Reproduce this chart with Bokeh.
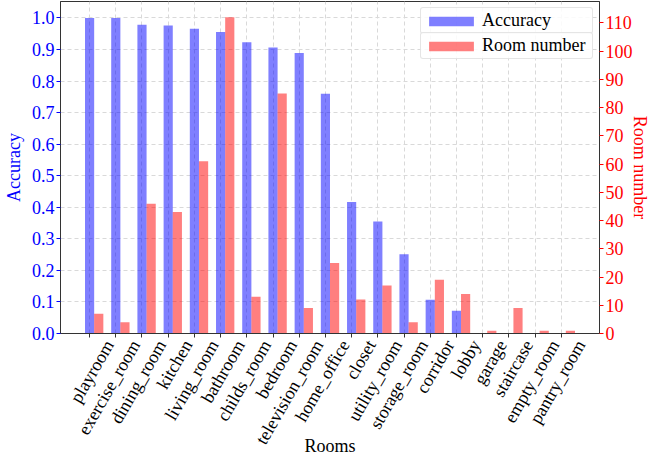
from bokeh.plotting import figure
from bokeh.models import (Range1d, LinearAxis, FixedTicker, Legend, LegendItem,
                          ColumnDataSource)
from bokeh.embed import file_html
from bokeh.resources import INLINE
import math

rooms = ["playroom", "exercise_room", "dining_room", "kitchen", "living_room",
         "bathroom", "childs_room", "bedroom", "television_room", "home_office",
         "closet", "utility_room", "storage_room", "corridor", "lobby",
         "garage", "staircase", "empty_room", "pantry_room"]
accuracy = [1.0, 1.0, 0.978, 0.976, 0.966, 0.955, 0.923, 0.906, 0.889, 0.760,
            0.417, 0.355, 0.251, 0.107, 0.072, 0.0, 0.0, 0.0, 0.0]
room_number = [7, 4, 46, 43, 61, 112, 13, 85, 9, 25, 12, 17, 4, 19, 14, 1, 9, 1, 1]
acc_ticks = [0.0, 0.1, 0.2, 0.3, 0.4, 0.5, 0.6, 0.7, 0.8, 0.9, 1.0]
num_ticks = [0, 10, 20, 30, 40, 50, 60, 70, 80, 90, 100, 110]

FONT = "Liberation Serif"
bw = 0.35
idx = list(range(len(rooms)))
X0, X1 = -1.11, 19.46
LBL_SHIFT = 0.75  # rotated labels centred under their ticks (matplotlib style)

src = ColumnDataSource(dict(
    x_acc=idx,
    x_num=[i + bw for i in idx],
    acc=accuracy,
    num=room_number,
))

p = figure(width=652, height=458, output_backend="svg", toolbar_location=None,
           x_range=Range1d(X0, X1), y_range=Range1d(0, 1.052),
           min_border_left=55, min_border_right=0, min_border_top=1,
           min_border_bottom=0)
p.extra_y_ranges = {"num": Range1d(0, 117.6)}
p.extra_x_ranges = {"lbl": Range1d(X0 - LBL_SHIFT, X1 - LBL_SHIFT)}

r1 = p.vbar(x="x_acc", top="acc", width=bw, source=src,
            fill_color="#0000ff", fill_alpha=0.5, line_color="#0000ff", line_alpha=0.0)
r2 = p.vbar(x="x_num", top="num", width=bw, source=src, y_range_name="num",
            fill_color="#ff0000", fill_alpha=0.5, line_color="#ff0000", line_alpha=0.0)

# x axis: tick marks only (labels not drawn)
xa = p.xaxis[0]
xa.ticker = FixedTicker(ticks=idx)
xa.major_label_text_font_size = "1px"
xa.major_label_text_color = None
xa.major_label_standoff = 0
xa.minor_tick_line_color = None
xa.major_tick_in = 0
xa.major_tick_out = 4
xa.axis_line_color = "#333333"
xa.major_tick_line_color = "#333333"

# x axis: rotated room labels + title
xl = LinearAxis(x_range_name="lbl", ticker=FixedTicker(ticks=idx))
xl.major_label_overrides = {i: r for i, r in enumerate(rooms)}
xl.major_label_orientation = math.radians(60)
xl.major_label_text_font = FONT
xl.major_label_text_font_size = "18px"
xl.major_label_text_color = "black"
xl.major_label_standoff = 4
xl.axis_line_color = None
xl.major_tick_line_color = None
xl.minor_tick_line_color = None
xl.major_tick_in = 0
xl.major_tick_out = 0
xl.axis_label = "Rooms"
xl.axis_label_text_font = FONT
xl.axis_label_text_font_size = "18px"
xl.axis_label_text_font_style = "normal"
xl.axis_label_text_color = "black"
xl.axis_label_standoff = -20
p.add_layout(xl, "below")

# left axis
ya = p.yaxis[0]
ya.ticker = FixedTicker(ticks=acc_ticks)
ya.major_label_overrides = {t: "%.1f" % t for t in acc_ticks}
ya.major_label_text_font = FONT
ya.major_label_text_font_size = "18px"
ya.major_label_text_color = "blue"
ya.axis_label = "Accuracy"
ya.axis_label_text_font = FONT
ya.axis_label_text_font_size = "18px"
ya.axis_label_text_font_style = "normal"
ya.axis_label_text_color = "blue"
ya.axis_label_standoff = 5
ya.major_label_standoff = 2
ya.minor_tick_line_color = None
ya.major_tick_in = 0
ya.major_tick_out = 4
ya.major_tick_line_color = "blue"
ya.axis_line_color = "#333333"

# right axis
ra = LinearAxis(y_range_name="num", ticker=FixedTicker(ticks=num_ticks))
ra.major_label_text_font = FONT
ra.major_label_text_font_size = "18px"
ra.major_label_text_color = "red"
ra.major_label_standoff = 2
ra.axis_label = "Room number"
ra.axis_label_text_font = FONT
ra.axis_label_text_font_size = "18px"
ra.axis_label_text_font_style = "normal"
ra.axis_label_text_color = "red"
ra.axis_label_standoff = -6
ra.minor_tick_line_color = None
ra.major_tick_in = 0
ra.major_tick_out = 4
ra.major_tick_line_color = "red"
ra.axis_line_color = "#333333"
p.add_layout(ra, "right")

# grid
p.xgrid.ticker = FixedTicker(ticks=idx)
p.xgrid.grid_line_color = "#d9d9d9"
p.xgrid.grid_line_dash = "4 3"
p.ygrid.grid_line_color = "#d9d9d9"
p.ygrid.grid_line_dash = "4 3"

p.outline_line_color = "#333333"
p.outline_line_width = 1
p.background_fill_color = "white"
p.border_fill_color = "white"

def make_legend(label, renderer):
    lg = Legend(items=[LegendItem(label=label, renderers=[renderer])])
    lg.label_text_font = FONT
    lg.label_text_font_size = "18px"
    lg.label_text_color = "black"
    lg.label_width = 108
    lg.label_height = 16
    lg.glyph_width = 56
    lg.glyph_height = 12
    lg.label_standoff = 3
    lg.padding = 2
    lg.margin = 0
    lg.spacing = 0
    lg.border_line_color = "#cccccc"
    lg.border_line_width = 1
    lg.border_radius = 3
    lg.background_fill_alpha = 0.85
    return lg

lg1 = make_legend("Accuracy", r1)
lg2 = make_legend("Room number", r2)
lg1.location = (360, 299)
lg2.location = (360, 274)
p.add_layout(lg1)
p.add_layout(lg2)

open("out.html", "w").write(file_html(p, INLINE))
